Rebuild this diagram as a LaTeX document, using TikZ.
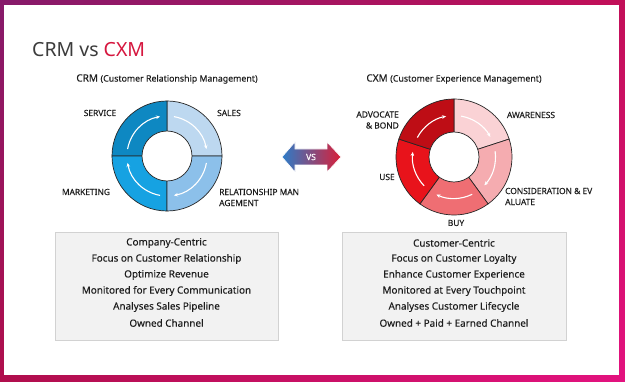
\documentclass[tikz,border=0pt]{standalone}
\usepackage{fontspec}
\setmainfont{Noto Sans}[FakeBold=0.2]
\newfontfamily\titlefont{Noto Sans}
\usetikzlibrary{arrows.meta,shadings}

\definecolor{txt}{HTML}{1E1E1E}
\definecolor{titlegray}{HTML}{3C3C3C}
\definecolor{titlered}{HTML}{D6173F}
\definecolor{boxfill}{HTML}{F2F2F2}
\definecolor{boxline}{HTML}{D2D2D2}
\definecolor{service}{HTML}{0E88C2}
\definecolor{sales}{HTML}{BDD8F0}
\definecolor{relman}{HTML}{8CC0EA}
\definecolor{marketing}{HTML}{16A2E2}
\definecolor{awareness}{HTML}{FAD2D5}
\definecolor{consider}{HTML}{F5ACB0}
\definecolor{buy}{HTML}{EF6E73}
\definecolor{use}{HTML}{E8131B}
\definecolor{advocate}{HTML}{BE0D15}
\definecolor{vsblue}{HTML}{2C7CC8}
\definecolor{vsred}{HTML}{DA1F38}
\definecolor{frameul}{HTML}{861A6A}
\definecolor{frameur}{HTML}{C20F58}
\definecolor{framell}{HTML}{B00E4C}
\definecolor{framelr}{HTML}{E3127F}

\tikzset{
  ring/.style={draw=black!85, line width=0.7pt},
  flow/.style={white, line width=1.1pt, -{Stealth[length=4pt,width=3.6pt]}},
  lbl/.style={font=\fontsize{8.4}{11}\selectfont, text=txt, inner sep=0pt},
  row/.style={font=\fontsize{9.9}{11}\selectfont, text=txt, inner sep=0pt},
  sub/.style={font=\fontsize{10}{11}\selectfont, text=txt, inner sep=0pt},
}

\begin{document}
\begin{tikzpicture}[x=1pt,y=-1pt]
\useasboundingbox (0,0) rectangle (625,382);

% frame
\shade[upper left=frameul, upper right=frameur, lower left=framell, lower right=framelr]
  (0,0) rectangle (625,382);
\fill[white] (4,5) rectangle (619,375);

\node[anchor=base west, inner sep=0pt, font=\titlefont\fontsize{19.5}{22}\selectfont] (title) at (32,57)
  {\textcolor{titlegray}{CRM vs} \textcolor{titlered}{CXM}};

\node[sub] (crmtitle) at (167,79) {CRM {\fontsize{8.8}{10}\selectfont(Customer Relationship Management)}};
\node[sub] (cxmtitle) at (454,79) {CXM {\fontsize{8.8}{10}\selectfont(Customer Experience Management)}};

% CRM ring
\begin{scope}[shift={(167,156)},yscale=-1]
\filldraw[ring, fill=sales] (0,0) -- (0:55) arc (0:90:55) -- cycle;
\filldraw[ring, fill=service] (0,0) -- (90:55) arc (90:180:55) -- cycle;
\filldraw[ring, fill=marketing] (0,0) -- (180:55) arc (180:270:55) -- cycle;
\filldraw[ring, fill=relman] (0,0) -- (270:55) arc (270:360:55) -- cycle;
\filldraw[ring, fill=white] (0,0) circle (25);
\draw[flow] (170:40) arc (170:100:40);
\draw[flow] (80:40) arc (80:10:40);
\draw[flow] (-10:40) arc (-10:-80:40);
\draw[flow] (-100:40) arc (-100:-170:40);
\end{scope}

\node[lbl] (serv) at (100,113) {SERVICE};
\node[lbl] (sal) at (229,113) {SALES};
\node[lbl] (mkt) at (86,192) {MARKETING};
\node[lbl, anchor=west, align=left] (rel) at (219,197.5) {RELATIONSHIP MAN\\AGEMENT};

% vs arrow
\shade[left color=vsblue, right color=vsred, draw=white, line width=0.6pt]
  (282,157) -- (295,142) -- (295,149) -- (327,149) -- (327,142) -- (341,157)
  -- (327,172) -- (327,165) -- (295,165) -- (295,172) -- cycle;
\node[white, inner sep=0pt, font=\fontsize{8.5}{10}\selectfont] (vs) at (311,157) {VS};

% CXM ring
\begin{scope}[shift={(454,157)},yscale=-1]
\filldraw[ring, fill=awareness] (0,0) -- (18:58) arc (18:90:58) -- cycle;
\filldraw[ring, fill=consider] (0,0) -- (-54:58) arc (-54:18:58) -- cycle;
\filldraw[ring, fill=buy] (0,0) -- (-126:58) arc (-126:-54:58) -- cycle;
\filldraw[ring, fill=use] (0,0) -- (162:58) arc (162:234:58) -- cycle;
\filldraw[ring, fill=advocate] (0,0) -- (90:58) arc (90:162:58) -- cycle;
\filldraw[ring, fill=white] (0,0) circle (25);
\draw[flow] (80:41.5) arc (80:29:41.5);
\draw[flow] (8:41.5) arc (8:-43:41.5);
\draw[flow] (-64:41.5) arc (-64:-115:41.5);
\draw[flow] (224:41.5) arc (224:173:41.5);
\draw[flow] (152:41.5) arc (152:101:41.5);
\end{scope}

\node[lbl, anchor=east, align=right] (adv) at (399,120) {ADVOCATE\\\& BOND};
\node[lbl] (awa) at (531,115) {AWARENESS};
\node[lbl] (usel) at (387,177) {USE};
\node[lbl, anchor=west, align=left] (con) at (505,196.5) {CONSIDERATION \& EV\\ALUATE};
\node[lbl] (buyl) at (456,223) {BUY};

% boxes
\filldraw[fill=boxfill, draw=boxline] (55,232) rectangle (278,340);
\filldraw[fill=boxfill, draw=boxline] (342,232) rectangle (566,340);

\foreach \t [count=\i] in {Company-Centric, Focus on Customer Relationship, Optimize Revenue,
    Monitored for Every Communication, Analyses Sales Pipeline, Owned Channel}
  \node[row] (crm\i) at (166.5,227+16*\i) {\t};
\foreach \t [count=\i] in {Customer-Centric, Focus on Customer Loyalty, Enhance Customer Experience,
    Monitored at Every Touchpoint, Analyses Customer Lifecycle, Owned + Paid + Earned Channel}
  \node[row] (cxm\i) at (454,227+16*\i) {\t};

\end{tikzpicture}
\end{document}
